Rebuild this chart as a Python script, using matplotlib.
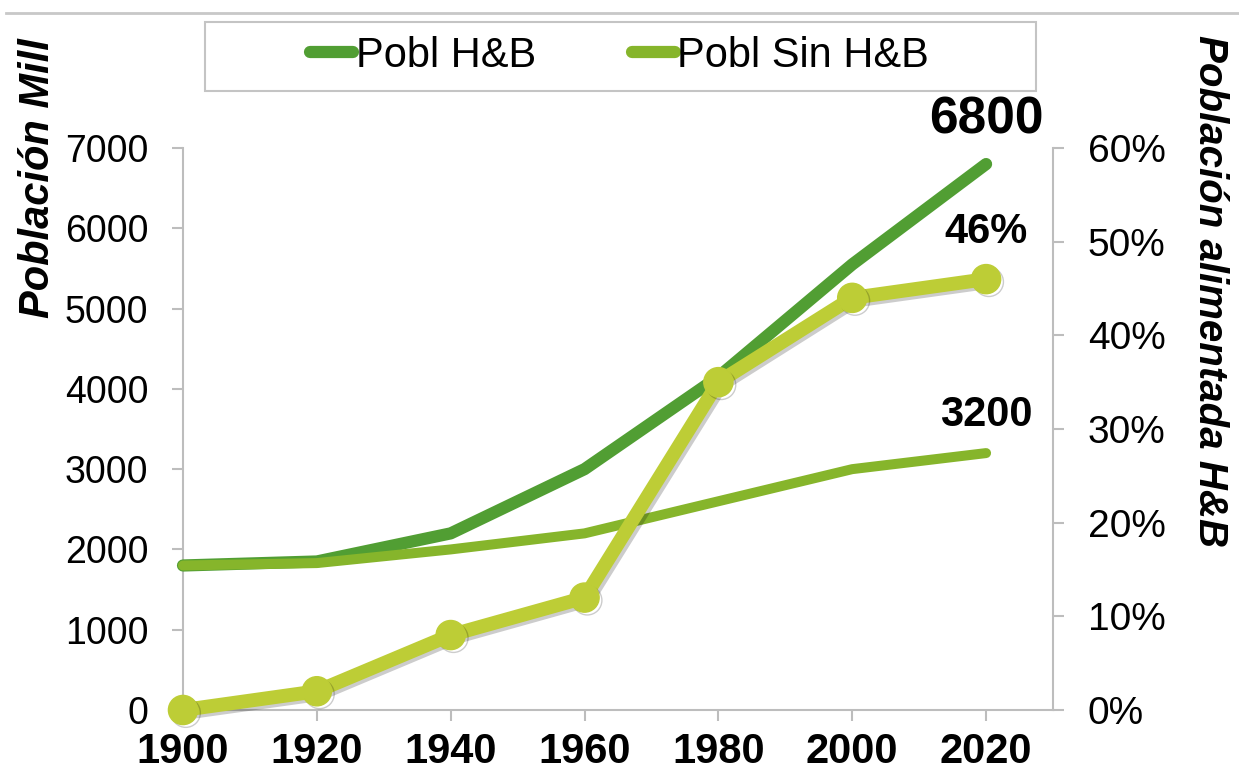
import numpy as np
import matplotlib
matplotlib.use('Agg')
import matplotlib.pyplot as plt
import matplotlib.patheffects as pe
from matplotlib.lines import Line2D
from matplotlib.patches import Rectangle
from matplotlib.ticker import PercentFormatter

plt.rcParams['font.family'] = ['Liberation Sans', 'DejaVu Sans']

# data
years = [1900, 1920, 1940, 1960, 1980, 2000, 2020]
pobl_hb = [1800, 1850, 2200, 3000, 4150, 5550, 6800]       # millones
pobl_sin_hb = [1800, 1830, 2000, 2200, 2600, 3000, 3200]   # millones
pct_hb = [0, 2, 8, 12, 35, 44, 46]                         # % alimentada H&B

c_dark = '#519e33'
c_light = '#86b52b'
c_pct = '#bdcd36'
c_axis = '#bdbdbd'

fig = plt.figure(figsize=(12.39, 7.79), dpi=100)
ax = fig.add_axes([183/1239, 1-710/779, (1053-183)/1239, (710-148)/779])
ax2 = ax.twinx()

l1, = ax.plot(years, pobl_hb, color=c_dark, lw=8.8, solid_capstyle='round',
              solid_joinstyle='round', clip_on=False, zorder=3)
l2, = ax.plot(years, pobl_sin_hb, color=c_light, lw=7.2, solid_capstyle='round',
              solid_joinstyle='round', clip_on=False, zorder=4)
ax2.plot(years, pct_hb, color=c_pct, lw=10, marker='o', ms=21, mec=c_pct, mfc=c_pct,
         solid_capstyle='round', solid_joinstyle='round', clip_on=False, zorder=5,
         path_effects=[pe.SimpleLineShadow(offset=(2, -2), alpha=0.2, shadow_color='black'),
                       pe.Normal()])

ax.set_xlim(1900, 2030)
ax.set_ylim(0, 7000)
ax2.set_ylim(0, 60)
ax.set_xticks(years)
ax.set_yticks(range(0, 7001, 1000))
ax2.set_yticks(range(0, 61, 10))
ax2.yaxis.set_major_formatter(PercentFormatter(xmax=100, decimals=0))

for a in (ax, ax2):
    a.patch.set_visible(False)
    a.spines['top'].set_visible(False)
    for s in ('left', 'right', 'bottom'):
        a.spines[s].set_color(c_axis)
        a.spines[s].set_linewidth(1.5)
    a.tick_params(color=c_axis, width=1.5, length=8)
ax.spines['right'].set_visible(False)
ax2.spines['left'].set_visible(False)
ax2.spines['bottom'].set_visible(False)

ax.tick_params(axis='y', labelsize=27, pad=17)
ax.tick_params(axis='x', labelsize=30, pad=8)
for t in ax.get_xticklabels():
    t.set_fontweight('bold')
ax2.tick_params(axis='y', labelsize=28, pad=17)

fig.text(38/1239, 1-178/779, 'Población Mill', rotation=90, ha='center', va='center',
         fontsize=30, fontweight='bold', fontstyle='italic')
fig.text(1210/1239, 1-291/779, 'Población alimentada H&B', rotation=-90, ha='center',
         va='center', fontsize=29, fontweight='bold', fontstyle='italic')

# end-point labels
ax.annotate(f'{pobl_hb[-1]}', xy=(years[-1], pobl_hb[-1]), xytext=(0, 44),
            textcoords='offset pixels', ha='center', va='center',
            fontsize=37, fontweight='bold', annotation_clip=False)
ax.annotate(f'{pobl_sin_hb[-1]}', xy=(years[-1], pobl_sin_hb[-1]), xytext=(0, 38),
            textcoords='offset pixels', ha='center', va='center',
            fontsize=30, fontweight='bold', annotation_clip=False)
ax2.annotate(f'{pct_hb[-1]}%', xy=(years[-1], pct_hb[-1]), xytext=(0, 47),
             textcoords='offset pixels', ha='center', va='center',
             fontsize=30, fontweight='bold', annotation_clip=False)

# legend box and top rule
fig.add_artist(Rectangle((205/1239, 1-91/779), (1036-205)/1239, (91-22)/779,
                         transform=fig.transFigure, fill=False, edgecolor='#c4c4c4', lw=1.5))
fig.add_artist(Line2D([6/1239, 1], [1-13/779, 1-13/779], transform=fig.transFigure,
                      color='#c8c8c8', lw=2))
fig.legend([Line2D([], [], color=c_dark, lw=8.8, solid_capstyle='round'),
            Line2D([], [], color=c_light, lw=8.8, solid_capstyle='round')],
           ['Pobl H&B', 'Pobl Sin H&B'], loc='center',
           bbox_to_anchor=(0.5, 1-56/779), ncol=2, frameon=False, fontsize=30,
           handlelength=1.05, handletextpad=0.05, columnspacing=2.3)

fig.savefig('out.png', dpi=100)
